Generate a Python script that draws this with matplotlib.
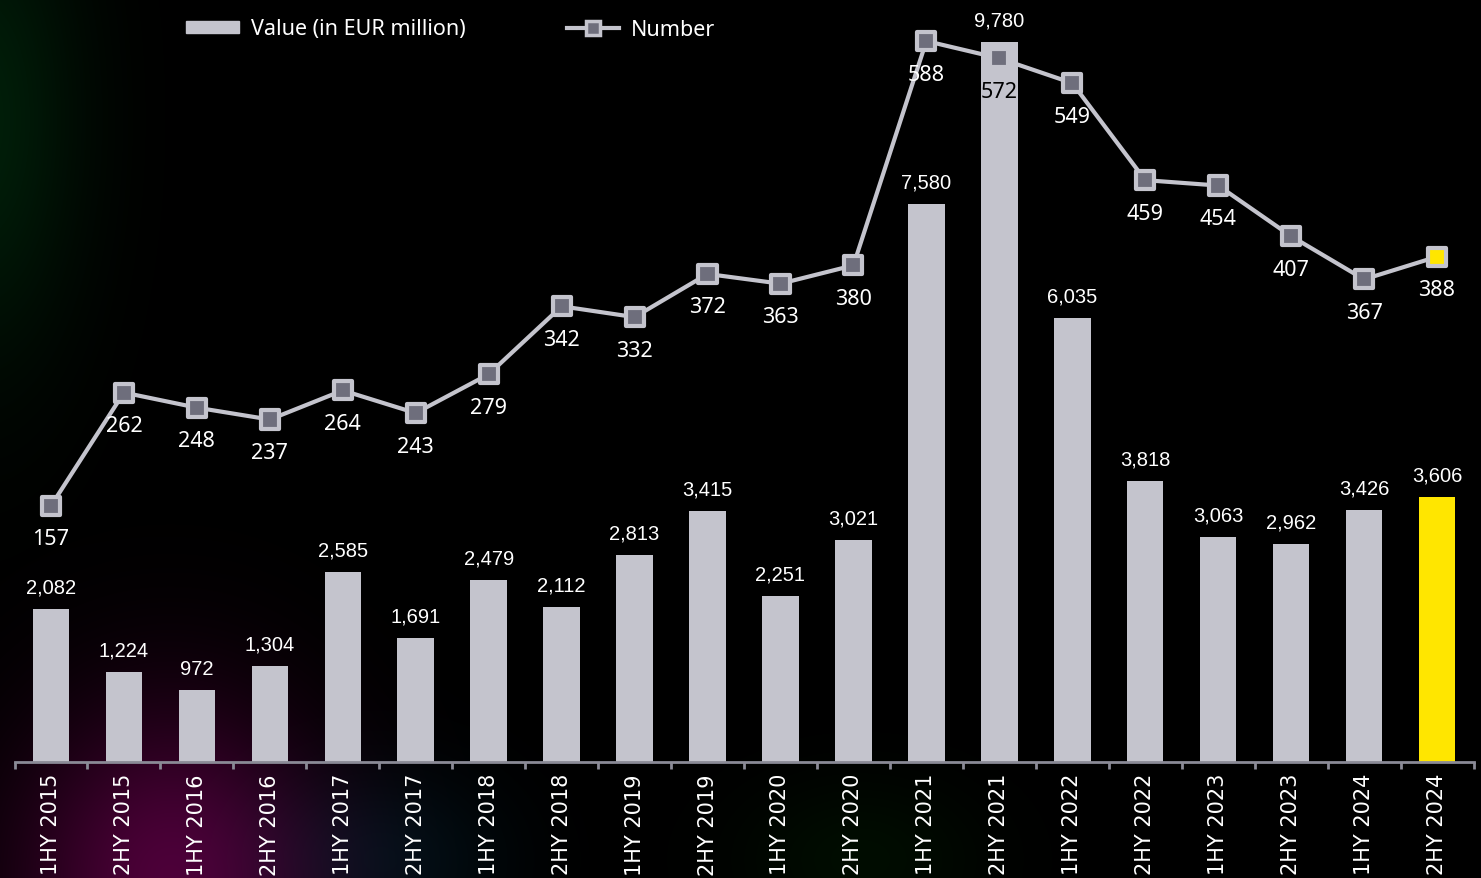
import numpy as np
import matplotlib
matplotlib.use("Agg")
import matplotlib.pyplot as plt
from matplotlib.patches import Rectangle
from matplotlib.lines import Line2D

periods = [
    "1HY 2015", "2HY 2015", "1HY 2016", "2HY 2016", "1HY 2017", "2HY 2017",
    "1HY 2018", "2HY 2018", "1HY 2019", "2HY 2019", "1HY 2020", "2HY 2020",
    "1HY 2021", "2HY 2021", "1HY 2022", "2HY 2022", "1HY 2023", "2HY 2023",
    "1HY 2024", "2HY 2024",
]
values = [2082, 1224, 972, 1304, 2585, 1691, 2479, 2112, 2813, 3415,
          2251, 3021, 7580, 9780, 6035, 3818, 3063, 2962, 3426, 3606]
numbers = [157, 262, 248, 237, 264, 243, 279, 342, 332, 372,
           363, 380, 588, 572, 549, 459, 454, 407, 367, 388]

GREY = "#c4c4cd"
DARK = "#6e6e7c"
YELLOW = "#ffe600"
W, H = 1481, 879

fig = plt.figure(figsize=(W / 100, H / 100), dpi=100, facecolor="black")

# background glow
bg = fig.add_axes([0, 0, 1, 1], zorder=-10)
yy, xx = np.mgrid[0:H, 0:W]
img = np.zeros((H, W, 3))
def glow(cx, cy, rx, ry, rgb):
    g = np.exp(-(((xx - cx) / rx) ** 2 + ((yy - cy) / ry) ** 2))
    for i in range(3):
        img[..., i] += g * rgb[i]
glow(-20, 120, 100, 240, (0.0, 0.12, 0.035))
glow(170, 879, 150, 170, (0.30, 0.0, 0.22))
glow(380, 860, 120, 90, (0.0, 0.06, 0.08))
glow(860, 860, 120, 80, (0.0, 0.05, 0.0))
bg.imshow(np.clip(img, 0, 1), aspect="auto", extent=[0, W, H, 0])
bg.axis("off")

ax = fig.add_axes([14.5 / W, (H - 763) / H, (1473.5 - 14.5) / W, 763 / H])
ax.set_facecolor("none")
x = np.arange(len(periods))
colors = [GREY] * (len(periods) - 1) + [YELLOW]
ax.bar(x, values, width=0.5, color=colors, zorder=2)
ax.set_xlim(-0.5, len(periods) - 0.5)
ax.set_ylim(0, 10366)
ax.set_yticks([])
for s in ["top", "right", "left"]:
    ax.spines[s].set_visible(False)
ax.spines["bottom"].set_color("#8a8a96")
ax.spines["bottom"].set_linewidth(2)

ax.set_xticks(x)
ax.set_xticklabels(periods, rotation=90, fontsize=15, color="white",
                   family="DejaVu Sans", va="top")
ax.tick_params(axis="x", which="major", length=0, pad=8)
ax.set_xticks(np.arange(-0.5, len(periods)), minor=True)
ax.tick_params(axis="x", which="minor", length=5, width=2, color="#8a8a96")

for xi, v in zip(x, values):
    ax.annotate(f"{v:,}", (xi, v), xytext=(0, 22), textcoords="offset pixels",
                ha="center", va="center", fontsize=14.5, color="white",
                family="Liberation Sans", zorder=5)

ax2 = ax.twinx()
ax2.set_ylim(-80.6, 627)
ax2.axis("off")
ax2.plot(x, numbers, color=GREY, lw=3, zorder=3)
face = [DARK] * (len(numbers) - 1) + [YELLOW]
ax2.scatter(x, numbers, marker="s", s=170, c=face, edgecolors=GREY,
            linewidths=3, zorder=4)
for xi, n in zip(x, numbers):
    col = "black" if n == 572 else "white"
    ax2.annotate(str(n), (xi, n), xytext=(0, -33), textcoords="offset pixels",
                 ha="center", va="center", fontsize=15.5, color=col,
                 family="Noto Sans", zorder=6)

handles = [
    Rectangle((0, 0), 1, 1, color=GREY),
    Line2D([], [], color=GREY, lw=3, marker="s", markersize=10,
           markerfacecolor=DARK, markeredgecolor=GREY, markeredgewidth=2.5),
]
leg = fig.legend(handles, ["Value (in EUR million)", "Number"], ncol=2,
                 loc="center left", bbox_to_anchor=(186 / W, 1 - 30 / H),
                 frameon=False, handlelength=2.45, handleheight=0.45,
                 handletextpad=0.55, columnspacing=4.7, borderpad=0,
                 borderaxespad=0, prop={"family": "Noto Sans", "size": 15.5})
for t in leg.get_texts():
    t.set_color("white")

fig.savefig("out.png", dpi=100, facecolor="black")
